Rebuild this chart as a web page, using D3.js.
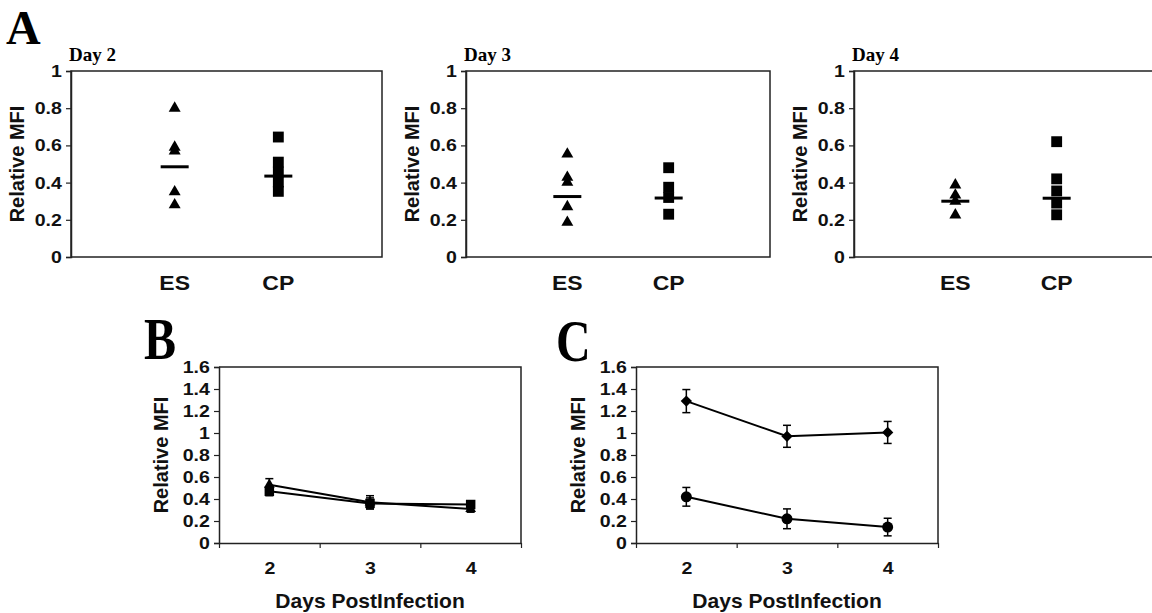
<!DOCTYPE html>
<html>
<head>
<meta charset="utf-8">
<script src="https://cdn.jsdelivr.net/npm/d3@7"></script>
<style>
  body { margin: 0; background: #fff; }
  svg { display: block; }
  .tick text { font-family: "Liberation Sans", Arial, sans-serif; font-weight: bold; fill: #111; }
  .ylab, .xlab, .cat { font-family: "Liberation Sans", Arial, sans-serif; font-weight: bold; fill: #111; }
  .title, .letter { font-family: "Liberation Serif", "Times New Roman", serif; font-weight: bold; fill: #000; }
</style>
</head>
<body>
<div id="chart"></div>
<script>
// ---- data ----
var groups = ["ES", "CP"];
var scatterDays = ["Day 2", "Day 3", "Day 4"];
var esValues = [
  [0.80, 0.59, 0.57, 0.35, 0.28],
  [0.553, 0.428, 0.401, 0.27, 0.186],
  [0.387, 0.333, 0.30, 0.226]
];
var cpValues = [
  [0.645, 0.51, 0.457, 0.403, 0.353],
  [0.48, 0.375, 0.32, 0.23],
  [0.62, 0.42, 0.355, 0.29, 0.227]
];
var esMean = [0.485, 0.325, 0.30];
var cpMean = [0.435, 0.317, 0.316];
var scatterTicks = [0, 0.2, 0.4, 0.6, 0.8, 1];

var days = [2, 3, 4];
var dayBounds = [1.5, 2.5, 3.5, 4.5];
var lineTicks = [0, 0.2, 0.4, 0.6, 0.8, 1, 1.2, 1.4, 1.6];
var bTriangle = [0.53, 0.37, 0.31];
var bTriangleErr = [0.055, 0.06, 0.03];
var bSquare = [0.47, 0.36, 0.35];
var bSquareErr = [0.04, 0.05, 0.03];
var cDiamond = [1.29, 0.97, 1.005];
var cDiamondErr = [0.105, 0.10, 0.10];
var cCircle = [0.42, 0.22, 0.145];
var cCircleErr = [0.085, 0.09, 0.08];

var W = 1152, H = 613;
var svg = d3.select("#chart").append("svg")
    .attr("width", W)
    .attr("height", H);
svg.append("rect").attr("width", W).attr("height", H).attr("fill", "#fff");

var fmt = d3.format("~g");
var wide = "scale(1.15,1)";   // the figure's sans labels run a bit wider than Liberation Sans

// panel letters
function letter(txt, x, y, sy) {
    svg.append("text")
        .attr("class", "letter")
        .attr("transform", "translate(" + x + "," + y + ") scale(1," + sy + ")")
        .style("font-size", "48px")
        .text(txt);
}
letter("A", 6, 44, 1);
letter("B", 144, 359, 1.25);
letter("C", 556, 361, 1.25);

// ---- panel A: three scatter plots ----
var scatterLayout = [
    {left: 71, width: 311},
    {left: 466, width: 304},
    {left: 854, width: 304}
];
var sTop = 71, sBottom = 257;

scatterDays.forEach(function (day, i) {
    var lay = scatterLayout[i];
    var g = svg.append("g").attr("transform", "translate(" + lay.left + "," + sTop + ")");
    var h = sBottom - sTop;

    var x = d3.scalePoint().domain(groups).range([0, lay.width]).padding(1);
    var y = d3.scaleLinear().domain([0, 1]).range([h, 0]);

    g.append("rect")
        .attr("width", lay.width).attr("height", h)
        .attr("fill", "none").attr("stroke", "#222").attr("stroke-width", 1.5);

    var ax = g.append("g")
        .call(d3.axisLeft(y).tickValues(scatterTicks).tickFormat(fmt).tickSize(5).tickPadding(3));
    ax.select(".domain").attr("stroke", "#222").attr("stroke-width", 1.5);
    ax.selectAll(".tick line").attr("stroke", "#222").attr("stroke-width", 1.2);
    ax.selectAll(".tick text").style("font-size", "17px").attr("transform", wide);

    g.selectAll(".cat")
        .data(groups)
        .enter().append("text")
        .attr("class", "cat")
        .attr("transform", function (d) { return "translate(" + x(d) + "," + (h + 33) + ") " + wide; })
        .attr("text-anchor", "middle")
        .style("font-size", "20px")
        .text(function (d) { return d; });

    g.append("text")
        .attr("class", "ylab")
        .attr("transform", "translate(-47," + (h / 2) + ") rotate(-90)")
        .attr("text-anchor", "middle")
        .style("font-size", "20px")
        .text("Relative MFI");

    g.append("text")
        .attr("class", "title")
        .attr("x", -2).attr("y", -10)
        .style("font-size", "19px")
        .text(day);

    var tri = d3.symbol(d3.symbolTriangle, 62);
    var sq = d3.symbol(d3.symbolSquare, 118);

    g.selectAll(".es")
        .data(esValues[i])
        .enter().append("path")
        .attr("d", tri)
        .attr("transform", function (d) { return "translate(" + x("ES") + "," + y(d) + ")"; })
        .attr("fill", "#000");

    g.selectAll(".cp")
        .data(cpValues[i])
        .enter().append("path")
        .attr("d", sq)
        .attr("transform", function (d) { return "translate(" + x("CP") + "," + y(d) + ")"; })
        .attr("fill", "#000");

    [["ES", esMean[i]], ["CP", cpMean[i]]].forEach(function (m) {
        g.append("line")
            .attr("x1", x(m[0]) - 14).attr("x2", x(m[0]) + 14)
            .attr("y1", y(m[1])).attr("y2", y(m[1]))
            .attr("stroke", "#000").attr("stroke-width", 3);
    });
});

// ---- panels B and C: time courses ----
var lTop = 367, lBottom = 543;

function linePanel(left, width, series) {
    var h = lBottom - lTop;
    var g = svg.append("g").attr("transform", "translate(" + left + "," + lTop + ")");
    var x = d3.scaleLinear().domain([1.5, 4.5]).range([0, width]);
    var y = d3.scaleLinear().domain([0, 1.6]).range([h, 0]);

    // frame (top and right)
    g.append("path")
        .attr("d", "M0,0H" + width + "V" + h)
        .attr("fill", "none").attr("stroke", "#222").attr("stroke-width", 1.5);

    var ay = g.append("g")
        .call(d3.axisLeft(y).tickValues(lineTicks).tickFormat(fmt).tickSize(5).tickPadding(3));
    ay.select(".domain").attr("stroke", "#222").attr("stroke-width", 1.5);
    ay.selectAll(".tick line").attr("stroke", "#222").attr("stroke-width", 1.2);
    ay.selectAll(".tick text").style("font-size", "17px").attr("transform", wide);

    var axb = g.append("g").attr("transform", "translate(0," + h + ")")
        .call(d3.axisBottom(x).tickValues(dayBounds).tickFormat("").tickSize(5).tickSizeOuter(0));
    axb.select(".domain").attr("stroke", "#222").attr("stroke-width", 1.5);
    axb.selectAll(".tick line").attr("stroke", "#222").attr("stroke-width", 1.2);

    var axl = g.append("g").attr("transform", "translate(0," + h + ")")
        .call(d3.axisBottom(x).tickValues(days).tickFormat(fmt).tickSize(0).tickPadding(19));
    axl.select(".domain").remove();
    axl.selectAll(".tick text").style("font-size", "17px").attr("transform", wide);

    g.append("text")
        .attr("class", "xlab")
        .attr("transform", "translate(" + (width / 2) + "," + (h + 65) + ") scale(1.08,1)")
        .attr("text-anchor", "middle")
        .style("font-size", "19.5px")
        .text("Days PostInfection");

    g.append("text")
        .attr("class", "ylab")
        .attr("transform", "translate(-51," + (h / 2) + ") rotate(-90)")
        .attr("text-anchor", "middle")
        .style("font-size", "20px")
        .text("Relative MFI");

    var line = d3.line()
        .x(function (d, i) { return x(days[i]); })
        .y(function (d) { return y(d); });

    series.forEach(function (s) {
        g.append("path")
            .datum(s.values)
            .attr("d", line)
            .attr("fill", "none").attr("stroke", "#000").attr("stroke-width", 2);

        var eb = g.append("g");
        s.values.forEach(function (v, i) {
            var cx = x(days[i]);
            var y1 = y(v + s.err[i]), y2 = y(v - s.err[i]);
            eb.append("line").attr("x1", cx).attr("x2", cx).attr("y1", y1).attr("y2", y2)
                .attr("stroke", "#000").attr("stroke-width", 1.5);
            [y1, y2].forEach(function (yy) {
                eb.append("line").attr("x1", cx - 4).attr("x2", cx + 4).attr("y1", yy).attr("y2", yy)
                    .attr("stroke", "#000").attr("stroke-width", 1.5);
            });
        });

        g.selectAll(null)
            .data(s.values)
            .enter().append("path")
            .attr("d", d3.symbol(s.symbol, s.size))
            .attr("transform", function (d, i) {
                return "translate(" + x(days[i]) + "," + y(d) + ")" + (s.rotate ? " rotate(45)" : "");
            })
            .attr("fill", "#000");
    });
}

linePanel(219, 302, [
    {values: bSquare, err: bSquareErr, symbol: d3.symbolSquare, size: 90},
    {values: bTriangle, err: bTriangleErr, symbol: d3.symbolTriangle, size: 50}
]);
linePanel(636, 302, [
    {values: cDiamond, err: cDiamondErr, symbol: d3.symbolSquare, size: 64, rotate: true},
    {values: cCircle, err: cCircleErr, symbol: d3.symbolCircle, size: 95}
]);
</script>
</body>
</html>
